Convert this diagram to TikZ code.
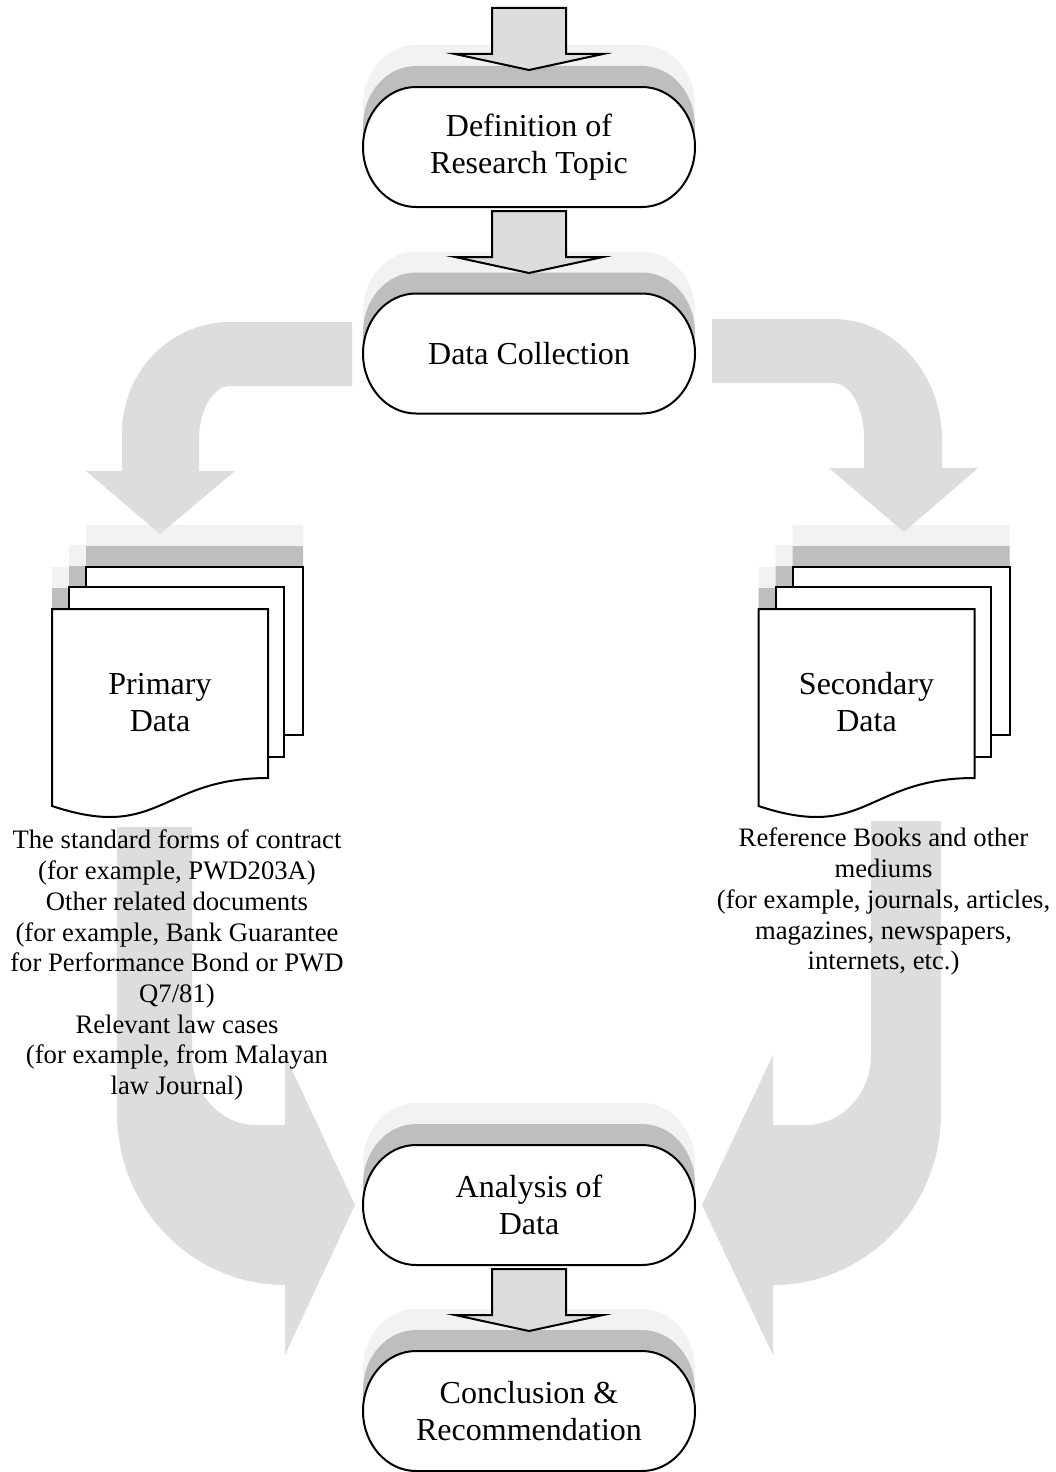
\documentclass[tikz,border=0pt]{standalone}
\usepackage{fontspec}
\setmainfont{Liberation Serif}
\usetikzlibrary{calc}
\pgfdeclarelayer{shadowlayer}
\pgfdeclarelayer{flowlayer}
\pgfdeclarelayer{shapelayer}
\pgfsetlayers{shadowlayer,flowlayer,shapelayer,main}
\definecolor{arrowgray}{RGB}{221,221,221}
\definecolor{shlight}{RGB}{242,242,242}
\definecolor{shdark}{RGB}{190,190,190}
\tikzset{
  bigfont/.style={font=\fontsize{32}{37}\selectfont},
  notefont/.style={font=\fontsize{26.67}{30.7}\selectfont},
  term/.style={bigfont, minimum width=332pt, minimum height=120pt, inner sep=0pt, outer sep=0pt, align=center},
  docnode/.style={bigfont, minimum width=216pt, minimum height=187pt, inner sep=0pt, outer sep=0pt, align=center},
  note/.style={notefont, align=center, inner sep=0pt, anchor=north},
  outline/.style={draw=black, line width=2pt, fill=white},
  blockarrow/.style={draw=black, line width=2pt, fill=arrowgray},
  flow/.style={fill=arrowgray},
  termp/.style 2 args={insert path={($(#1.north west)+(53,#2)$) -- ($(#1.north east)+(-53,#2)$)
      arc[start angle=90,end angle=-90,x radius=53pt,y radius=60pt]
      -- ($(#1.south west)+(53,#2)$)
      arc[start angle=270,end angle=90,x radius=53pt,y radius=60pt] -- cycle}},
  barrowp/.style={insert path={($(#1)+(-37,-4)$) -- ++(74,0) -- ++(0,-46) -- ++(37,0)
      -- ++(-74,-16) -- ++(-74,16) -- ++(37,0) -- cycle}},
  docunion/.style={insert path={(34,-42) -- (251,-42) -- (251,126) -- (232,126) -- (232,148)
      -- (216,148) -- (216,169) .. controls (108,169) and (108,233) .. (0,197)
      -- (0,0) -- (17,0) -- (17,-22) -- (34,-22) -- cycle}},
  docpages/.style={},
}
\begin{document}
\begin{tikzpicture}[x=1pt,y=1pt]
\useasboundingbox (0,0) rectangle (1055,-1472);

% ---------- nodes ----------
\coordinate (start) at (529,-4);
\node[term] (t1) at (529,-147) {Definition of\\Research Topic};
\node[term] (t2) at (529,-353.5) {Data Collection};
\node[term] (t3) at (529,-1205) {Analysis of\\Data};
\node[term] (t4) at (529,-1411) {Conclusion \&\\Recommendation};
\node[docnode] (d1) at (160,-702.5) {Primary\\Data};
\node[docnode] (d2) at (866.5,-702.5) {Secondary\\Data};
\node[note] (n1) at (177,-830) {The standard forms of contract\\(for example, PWD203A)\\Other related documents\\(for example, Bank Guarantee\\for Performance Bond or PWD\\Q7/81)\\Relevant law cases\\(for example, from Malayan\\law Journal)};
\node[note] (n2) at (883.5,-828) {Reference Books and other\\mediums\\(for example, journals, articles,\\magazines, newspapers,\\internets, etc.)};

% ---------- block arrows ----------
\path[blockarrow, barrowp={start}];
\path[blockarrow, barrowp={t1.south}];
\path[blockarrow, barrowp={t3.south}];

% ---------- shadows ----------
\begin{pgfonlayer}{shadowlayer}
  \fill[white] (0,0) rectangle (1055,-1472);
  \foreach \t in {t1,t2,t3,t4}{
    \fill[shlight, termp={\t}{42}];
    \fill[shdark, termp={\t}{21}];
  }
  \foreach \d in {d1,d2}{
    \begin{scope}[shift={(\d.north west)}, yscale=-1]
      \begin{scope}[shift={(0,-42)}]
        \fill[shlight, docunion];
      \end{scope}
      \begin{scope}[shift={(0,-21)}]
        \fill[shdark, docunion];
      \end{scope}
    \end{scope}
  }
\end{pgfonlayer}

% ---------- big curved flow arrows ----------
\begin{pgfonlayer}{flowlayer}
  % Data Collection -> Primary Data
  \fill[flow] (352,-322) -- (230,-322)
    arc[start angle=90,end angle=180,x radius=108pt,y radius=111pt]
    -- (122,-471) -- (86,-471) -- (160,-534) -- (235,-471) -- (199,-471) -- (199,-440)
    arc[start angle=180,end angle=90,x radius=31pt,y radius=54pt]
    -- (352,-386) -- cycle;
  % Data Collection -> Secondary Data
  \fill[flow] (712,-319) -- (833,-319)
    arc[start angle=90,end angle=0,x radius=109pt,y radius=121pt]
    -- (942,-468) -- (978,-468) -- (904,-532) -- (829,-468) -- (864,-468) -- (864,-437)
    arc[start angle=0,end angle=90,x radius=31pt,y radius=54pt]
    -- (712,-383) -- cycle;
  % Primary Data -> Analysis
  \fill[flow] (192,-827) -- (117,-827) -- (117,-1113)
    arc[start angle=180,end angle=270,x radius=168pt,y radius=172pt]
    -- (285,-1355) -- (355,-1205) -- (285,-1055) -- (285,-1125) -- (256,-1125)
    arc[start angle=270,end angle=180,x radius=64pt,y radius=70pt]
    -- cycle;
  % Secondary Data -> Analysis
  \fill[flow] (871,-821) -- (941,-821) -- (941,-1113)
    arc[start angle=0,end angle=-90,x radius=168pt,y radius=172pt]
    -- (773,-1355) -- (702,-1205) -- (773,-1055) -- (773,-1125) -- (806,-1125)
    arc[start angle=-90,end angle=0,x radius=65pt,y radius=70pt]
    -- cycle;
\end{pgfonlayer}

% ---------- shapes ----------
\begin{pgfonlayer}{shapelayer}
  \foreach \t in {t1,t2,t3,t4}{
    \path[outline, termp={\t}{0}];
  }
  \foreach \d in {d1,d2}{
    \begin{scope}[shift={(\d.north west)}, yscale=-1]
      \path[outline] (34,-42) rectangle (251,126);
      \path[outline] (17,-22) rectangle (232,148);
      \path[outline] (0,0) -- (216,0) -- (216,169) .. controls (108,169) and (108,233) .. (0,197) -- cycle;
    \end{scope}
  }
\end{pgfonlayer}
\end{tikzpicture}
\end{document}
